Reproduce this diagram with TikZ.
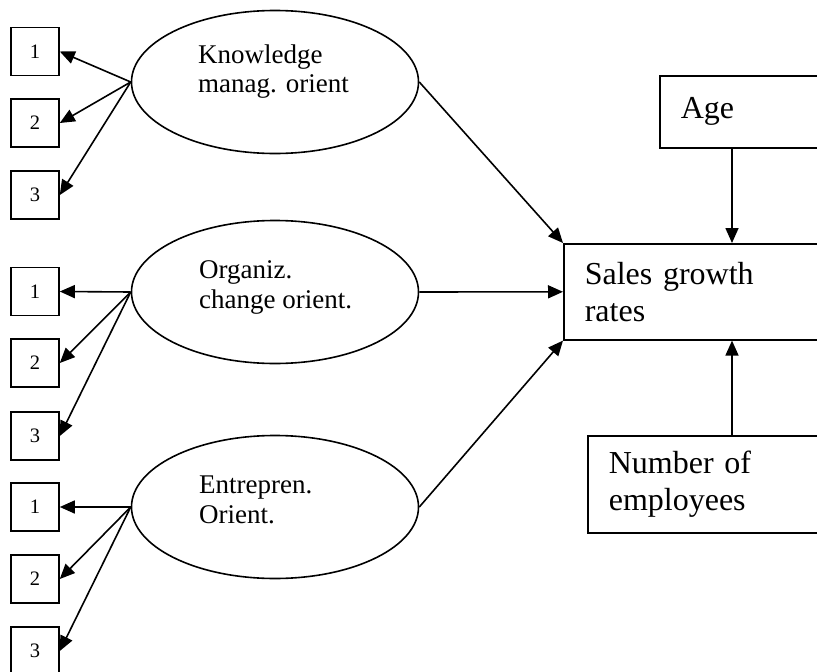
\documentclass[tikz,border=0pt]{standalone}
\usepackage{fontspec}
\setmainfont{Liberation Serif}
\usetikzlibrary{shapes.geometric, arrows.meta}

\begin{document}
\begin{tikzpicture}[x=1pt, y=-1pt,
    item/.style={rectangle, draw, line width=1.6pt, minimum size=48pt, inner sep=0pt, font=\fontsize{20.5}{22}\selectfont},
    construct/.style={ellipse, draw, line width=1.6pt, minimum width=287pt, minimum height=143pt},
    construct text/.style={anchor=base west, align=left, inner sep=0pt, font=\fontsize{27}{29.5}\selectfont},
    var/.style={rectangle, draw, line width=1.6pt, anchor=north west, align=left, inner xsep=21pt, inner ysep=0pt, font=\fontsize{32}{37}\selectfont},
    link/.style={line width=1.6pt, -{Triangle[length=15pt, width=13pt]}}]

  \path[use as bounding box, clip] (0,0) rectangle (817,672);

  % latent constructs
  \node[construct] (kmo) at (275,82) {};
  \node[construct] (oco) at (275,292) {};
  \node[construct] (ent) at (275,507) {};
  \node[construct text] (kmoText) at (198,92.5) {Knowledge\\manag. orient};
  \node[construct text] (ocoText) at (199,308) {Organiz.\\change orient.};
  \node[construct text] (entText) at (199,523) {Entrepren.\\Orient.};

  % indicators
  \node[item] (k1) at (35,51.5) {1};
  \node[item] (k2) at (35,123) {2};
  \node[item] (k3) at (35,195) {3};
  \node[item] (o1) at (35,291.5) {1};
  \node[item] (o2) at (35,363) {2};
  \node[item] (o3) at (35,436) {3};
  \node[item] (e1) at (35,507) {1};
  \node[item] (e2) at (35,579) {2};
  \node[item] (e3) at (35,651) {3};

  % outcome and controls
  \node[var, text width=228pt, minimum height=96pt] (sales) at (563,243) {Sales growth\\rates};
  \node[var, text width=129pt, minimum height=72pt] (age) at (659,75) {Age};
  \node[var, text width=201pt, minimum height=97pt] (employees) at (587,435) {Number of\\employees};
  \coordinate (ax) at (732,0);

  \draw[link] (kmo.west) -- (k1.east);
  \draw[link] (kmo.west) -- (k2.east);
  \draw[link] (kmo.west) -- (k3.east);
  \draw[link] (oco.west) -- (o1.east);
  \draw[link] (oco.west) -- (o2.east);
  \draw[link] (oco.west) -- (o3.east);
  \draw[link] (ent.west) -- (e1.east);
  \draw[link] (ent.west) -- (e2.east);
  \draw[link] (ent.west) -- (e3.east);

  \draw[link] (kmo.east) -- (sales.north west);
  \draw[link] (oco.east) -- (sales.west);
  \draw[link] (ent.east) -- (sales.south west);
  \draw[link] (age.south -| ax) -- (sales.north -| ax);
  \draw[link] (employees.north -| ax) -- (sales.south -| ax);
\end{tikzpicture}
\end{document}
